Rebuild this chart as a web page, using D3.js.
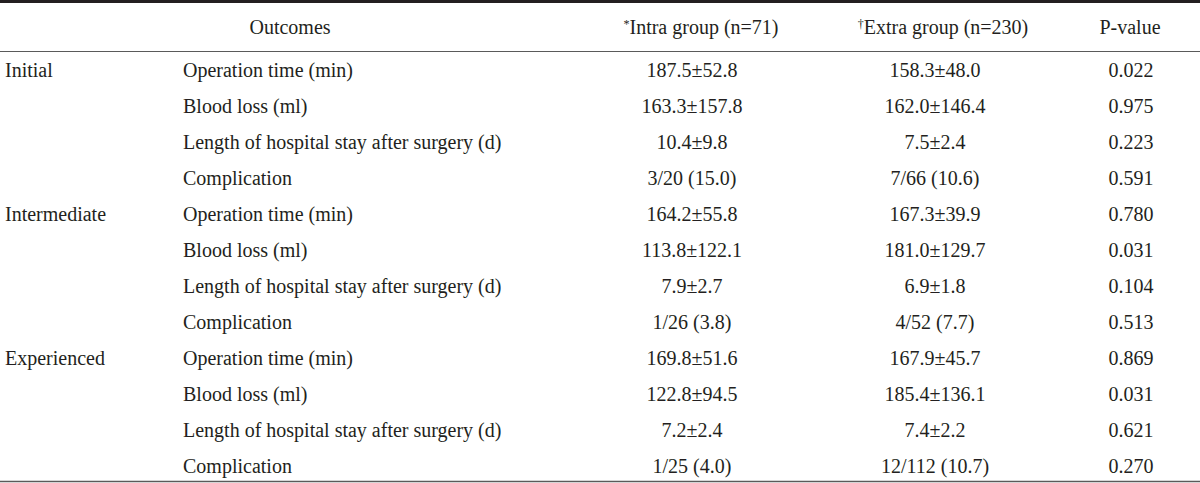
<!DOCTYPE html>
<html>
<head>
<meta charset="utf-8">
<script src="https://cdn.jsdelivr.net/npm/d3@7"></script>
<style>
  html, body { margin: 0; padding: 0; background: #ffffff; }
  svg { display: block; }
  text { font-family: "Liberation Serif", "DejaVu Serif", serif; fill: #231f20; }
</style>
</head>
<body>
<div id="chart"></div>
<script>
// ---- data ----
const headers = ["Outcomes", "Intra group (n=71)", "Extra group (n=230)", "P-value"];
const headerMarks = ["", "*", "\u2020", ""];
const levels = ["Initial", "Intermediate", "Experienced"];
const outcomes = ["Operation time (min)", "Blood loss (ml)", "Length of hospital stay after surgery (d)", "Complication"];
const intraValues = [
  "187.5\u00b152.8", "163.3\u00b1157.8", "10.4\u00b19.8", "3/20 (15.0)",
  "164.2\u00b155.8", "113.8\u00b1122.1", "7.9\u00b12.7", "1/26 (3.8)",
  "169.8\u00b151.6", "122.8\u00b194.5", "7.2\u00b12.4", "1/25 (4.0)"
];
const extraValues = [
  "158.3\u00b148.0", "162.0\u00b1146.4", "7.5\u00b12.4", "7/66 (10.6)",
  "167.3\u00b139.9", "181.0\u00b1129.7", "6.9\u00b11.8", "4/52 (7.7)",
  "167.9\u00b145.7", "185.4\u00b1136.1", "7.4\u00b12.2", "12/112 (10.7)"
];
const pValues = [
  "0.022", "0.975", "0.223", "0.591",
  "0.780", "0.031", "0.104", "0.513",
  "0.869", "0.031", "0.621", "0.270"
];

// ---- layout ----
const W = 1200, H = 483;
const fontSize = 20;
const svg = d3.select("#chart").append("svg").attr("width", W).attr("height", H);

const rows = d3.range(levels.length * outcomes.length);
const y = d3.scalePoint().domain(rows).range([77, 473]);
const headerBaseline = 34;

const col = { level: 5, outcome: 183, intra: 692, extra: 935, p: 1131 };
const headerX = [290, 701, 943, 1130];

// rules
svg.append("rect").attr("x", 0).attr("y", 0).attr("width", W).attr("height", 3).attr("fill", "#231f20");
svg.append("line").attr("x1", 0).attr("x2", W).attr("y1", 51.5).attr("y2", 51.5)
  .attr("stroke", "#5a5a5a").attr("stroke-width", 1.2);
svg.append("line").attr("x1", 0).attr("x2", W).attr("y1", 481.5).attr("y2", 481.5)
  .attr("stroke", "#5a5a5a").attr("stroke-width", 1.5);

// header
headers.forEach((h, i) => {
  const t = svg.append("text").attr("x", headerX[i]).attr("y", headerBaseline)
    .attr("text-anchor", "middle").attr("font-size", fontSize);
  if (headerMarks[i]) {
    t.append("tspan").attr("font-size", 12).attr("dy", -6).text(headerMarks[i]);
    t.append("tspan").attr("dy", 6).text(h);
  } else {
    t.text(h);
  }
});

// level labels
svg.selectAll("text.level").data(levels).join("text")
  .attr("class", "level")
  .attr("x", col.level)
  .attr("y", (d, i) => y(i * outcomes.length))
  .attr("font-size", fontSize)
  .text(d => d);

// outcome labels
svg.selectAll("text.outcome").data(rows).join("text")
  .attr("class", "outcome")
  .attr("x", col.outcome)
  .attr("y", d => y(d))
  .attr("font-size", fontSize)
  .text(d => outcomes[d % outcomes.length]);

const addCol = (cls, arr, x) => {
  svg.selectAll("text." + cls).data(arr).join("text")
    .attr("class", cls)
    .attr("x", x)
    .attr("y", (d, i) => y(i))
    .attr("text-anchor", "middle")
    .attr("font-size", fontSize)
    .text(d => d);
};
addCol("intra", intraValues, col.intra);
addCol("extra", extraValues, col.extra);
addCol("pval", pValues, col.p);
</script>
</body>
</html>
